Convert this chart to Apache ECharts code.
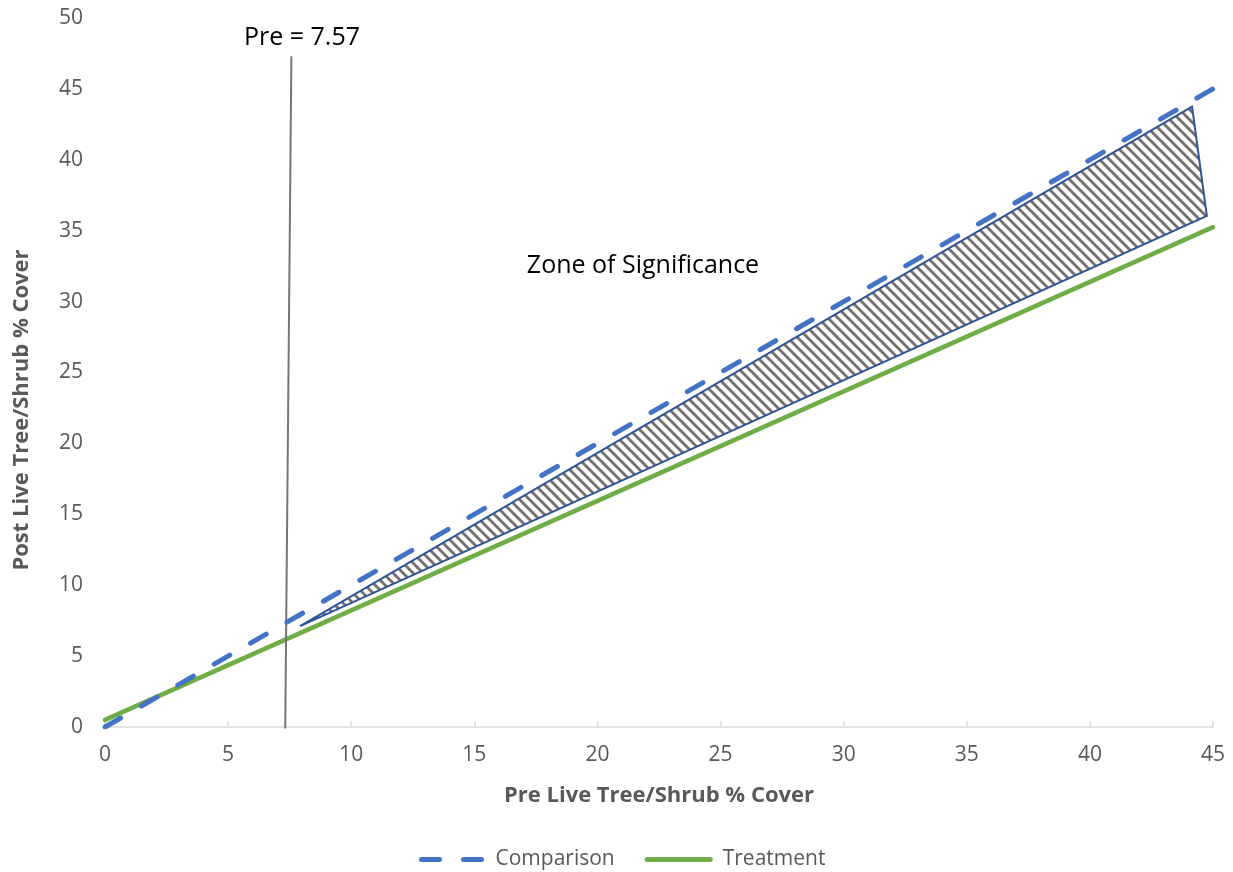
<!DOCTYPE html>
<html><head><meta charset="utf-8">
<script src="https://cdn.jsdelivr.net/npm/echarts@6/dist/echarts.min.js"></script>
<style>html,body{margin:0;padding:0;background:#fff}#c{width:1233px;height:872px}</style>
</head><body><div id="c"></div>
<script>
// ---- data ----
const comparisonX = [0, 45];
const comparisonY = [0, 45];
const treatmentX = [0, 45];
const treatmentY = [0.5, 35.25];
const preLineX = [7.57, 7.32];
const preLineY = [47.3, -0.1];
const zoneX = [7.92, 44.15, 44.75];
const zoneY = [7.12, 43.75, 36.04];
const seriesNames = ['Comparison', 'Treatment'];
const xAxisTitle = 'Pre Live Tree/Shrub % Cover';
const yAxisTitle = 'Post Live Tree/Shrub % Cover';
const preLabel = 'Pre = 7.57';
const zoneLabel = 'Zone of Significance';

// ---- hatch pattern ----
const s = 10;
const pc = document.createElement('canvas');
pc.width = s; pc.height = s;
const ctx = pc.getContext('2d');
ctx.fillStyle = '#ffffff'; ctx.fillRect(0, 0, s, s);
ctx.strokeStyle = '#767171'; ctx.lineWidth = 2.9;
ctx.beginPath();
ctx.moveTo(-2, -2); ctx.lineTo(s + 2, s + 2);
ctx.moveTo(s - 3, -3); ctx.lineTo(s + 3, 3);
ctx.moveTo(-3, s - 3); ctx.lineTo(3, s + 3);
ctx.stroke();

const dashIcon = 'path://M2.5,0H20.5A2.5,2.5,0,0,1,20.5,5H2.5A2.5,2.5,0,0,1,2.5,0Z M44.5,0H62.5A2.5,2.5,0,0,1,62.5,5H44.5A2.5,2.5,0,0,1,44.5,0Z';
const solidIcon = 'path://M2.5,0H65.5A2.5,2.5,0,0,1,65.5,5H2.5A2.5,2.5,0,0,1,2.5,0Z';

const font = 'Open Sans';
const chart = echarts.init(document.getElementById('c'), null, {renderer: 'canvas'});
const pairs = (xs, ys) => xs.map((x, i) => [x, ys[i]]);

chart.setOption({
  animation: false,
  backgroundColor: '#ffffff',
  textStyle: {fontFamily: font},
  grid: {left: 105, right: 20, top: 18, bottom: 145, outerBoundsMode: 'none'},
  legend: {
    data: [{name: seriesNames[0], icon: dashIcon}, {name: seriesNames[1], icon: solidIcon}],
    top: 844, left: 414,
    itemWidth: 68, itemHeight: 5, itemGap: 30,
    textStyle: {fontSize: 21, color: '#595959', fontFamily: font, padding: [0, 0, 0, 5]}
  },
  xAxis: {
    type: 'value', min: 0, max: 45, interval: 5,
    axisLine: {lineStyle: {color: '#d9d9d9', width: 1.5}},
    axisTick: {show: true, inside: true, length: 6, lineStyle: {color: '#d9d9d9', width: 1.5}},
    splitLine: {show: false},
    axisLabel: {fontSize: 21, color: '#595959', margin: 18, fontFamily: font},
    name: xAxisTitle, nameLocation: 'middle', nameGap: 58,
    nameTextStyle: {fontSize: 22, fontWeight: 'bold', color: '#595959', fontFamily: font}
  },
  yAxis: {
    type: 'value', min: 0, max: 50, interval: 5,
    axisLine: {show: false}, axisTick: {show: false}, splitLine: {show: false},
    axisLabel: {fontSize: 21, color: '#595959', margin: 22, fontFamily: font}
  },
  graphic: [
    {type: 'text', x: 22, y: 410, rotation: Math.PI / 2,
     style: {text: yAxisTitle, font: 'bold 22px "Open Sans"', fill: '#595959', align: 'center', verticalAlign: 'middle'}},
    {type: 'text', x: 302, y: 38,
     style: {text: preLabel, font: '25px "Open Sans"', fill: '#000000', align: 'center', verticalAlign: 'middle'}},
    {type: 'text', x: 643, y: 266,
     style: {text: zoneLabel, font: '25px "Open Sans"', fill: '#000000', align: 'center', verticalAlign: 'middle'}}
  ],
  series: [
    {
      name: 'zone', type: 'custom', silent: true, z: 2,
      data: pairs(zoneX, zoneY),
      renderItem: function (params, api) {
        if (params.dataIndex !== 0) return null;
        const pts = zoneX.map((x, i) => api.coord([x, zoneY[i]]));
        return {type: 'polygon', shape: {points: pts},
          style: {fill: {image: pc, repeat: 'repeat'}, stroke: '#2F5597', lineWidth: 2}};
      }
    },
    {
      name: 'Treatment', type: 'line', symbol: 'none', z: 3,
      data: pairs(treatmentX, treatmentY),
      lineStyle: {color: '#70AD47', width: 4.5, cap: 'round'},
      itemStyle: {color: '#70AD47'}
    },
    {
      name: 'preLine', type: 'line', symbol: 'none', z: 4, clip: false,
      data: pairs(preLineX, preLineY),
      lineStyle: {color: '#767676', width: 2}
    },
    {
      name: 'Comparison', type: 'line', symbol: 'none', z: 5,
      data: pairs(comparisonX, comparisonY),
      lineStyle: {color: '#4472C4', width: 5, type: [18, 24], cap: 'round'},
      itemStyle: {color: '#4472C4'}
    }
  ]
});
</script>
</body></html>
